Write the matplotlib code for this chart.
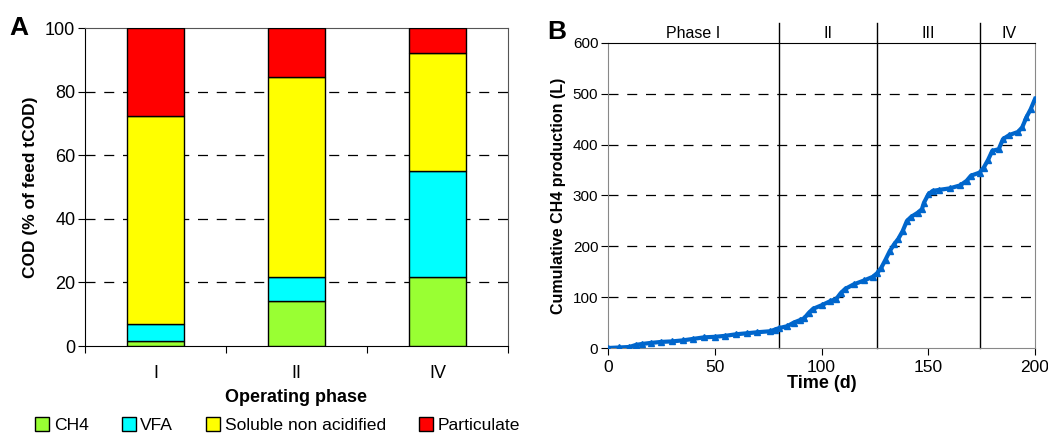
import numpy as np
import matplotlib
matplotlib.use('Agg')
import matplotlib.pyplot as plt
from matplotlib.patches import Patch

plt.rcParams['font.family'] = ['Liberation Sans', 'DejaVu Sans']

# panel A: COD split per operating phase (% of feed tCOD)
phases = ['I', 'II', 'IV']
ch4 = [1.7, 14.2, 21.8]
vfa = [5.2, 7.5, 33.2]
soluble = [65.4, 63.0, 37.3]
particulate = [27.7, 15.3, 7.7]
comp_names = ['CH4', 'VFA', 'Soluble non acidified', 'Particulate']
comp_colors = ['#99FF33', '#00FFFF', '#FFFF00', '#FF0000']

# panel B: cumulative CH4 production
time_d = [0, 5, 10, 13, 16, 20, 25, 30, 35, 40, 45, 50, 55, 60, 65, 70, 76, 78, 80,
          84, 87, 90, 92, 94, 96, 100, 104, 107, 109, 111, 115, 120, 124, 126, 128,
          130, 132, 134, 136, 138, 140, 142, 145, 147, 148, 150, 152, 155, 160, 165,
          168, 170, 174, 176, 178, 180, 183, 185, 188, 192, 194, 196, 198, 200]
ch4_cum = [0, 1, 2, 6, 8, 10, 12, 13, 15, 18, 21, 22, 24, 27, 29, 31, 33, 36, 39,
           43, 50, 55, 59, 69, 77, 84, 92, 97, 108, 116, 125, 133, 140, 147, 158,
           174, 191, 204, 215, 230, 250, 258, 266, 273, 286, 302, 309, 311, 314, 320,
           329, 339, 345, 355, 370, 388, 391, 411, 419, 425, 434, 454, 470, 490]
phase_bounds = [80, 126, 174]
phase_labels = ['Phase I', 'II', 'III', 'IV']
phase_label_x = [40, 103, 150, 188]

fig = plt.figure(figsize=(10.48, 4.33), dpi=100)

# ---- A ----
axA = fig.add_axes([0.0811, 0.2009, 0.4036, 0.7344])
x = np.arange(len(phases))
bottom = np.zeros(len(phases))
for vals, name, col in zip([ch4, vfa, soluble, particulate], comp_names, comp_colors):
    axA.bar(x, vals, 0.4, bottom=bottom, color=col, edgecolor='black', linewidth=1, label=name, zorder=3)
    bottom += np.array(vals)
axA.set_xlim(-0.5, 2.5)
axA.set_ylim(0, 100)
axA.set_yticks([0, 20, 40, 60, 80, 100])
axA.set_xticks([-0.5, 0.5, 1.5, 2.5])
axA.set_xticklabels([])
axA.set_xticks(x, minor=True)
axA.set_xticklabels(phases, minor=True)
axA.tick_params(axis='x', which='minor', length=0, pad=14, labelsize=13)
axA.tick_params(axis='x', which='major', length=5, direction='out')
axA.tick_params(axis='y', length=5, labelsize=13, pad=2)
for yv in [20, 40, 60, 80]:
    axA.axhline(yv, color='black', lw=0.9, dashes=(8, 7), zorder=1)
for s in ['top', 'right']:
    axA.spines[s].set_color('#555555')
axA.set_xlabel('Operating phase', fontweight='bold', fontsize=13, labelpad=5)
axA.set_ylabel('COD (% of feed tCOD)', fontweight='bold', fontsize=12.5, labelpad=5)
fig.text(0.009, 0.935, 'A', fontweight='bold', fontsize=19, va='center')

handles = [Patch(facecolor=c, edgecolor='black', label=n) for n, c in zip(comp_names, comp_colors)]
fig.legend(handles=handles, loc='center', bbox_to_anchor=(0.265, 0.018), ncol=4, frameon=False,
           fontsize=12.6, handlelength=0.8, handleheight=0.8, handletextpad=0.25, columnspacing=1.9)

# ---- B ----
axB = fig.add_axes([0.5802, 0.1963, 0.4074, 0.7044])
axB.plot(time_d, ch4_cum, color='#0066CC', lw=3, marker='^', ms=5, zorder=3)
axB.set_xlim(0, 200)
axB.set_ylim(0, 600)
axB.set_xticks([0, 50, 100, 150, 200])
axB.set_yticks([0, 100, 200, 300, 400, 500, 600])
axB.tick_params(axis='x', labelsize=12.5, length=5)
axB.tick_params(axis='y', labelsize=11, length=5, pad=2)
for yv in [100, 200, 300, 400, 500]:
    axB.axhline(yv, color='black', lw=0.9, dashes=(8, 7), zorder=1)
for s in ['left', 'right', 'bottom']:
    axB.spines[s].set_color('#888888')
axB.spines['top'].set_color('black')
for xb in phase_bounds:
    axB.plot([xb, xb], [0, 640], color='black', lw=1, clip_on=False, zorder=2)
for lab, xl in zip(phase_labels, phase_label_x):
    axB.text(xl, 618, lab, ha='center', va='center', fontsize=11.5)
axB.set_xlabel('Time (d)', fontweight='bold', fontsize=13, labelpad=0)
axB.set_ylabel('Cumulative CH4 production (L)', fontweight='bold', fontsize=11.5, labelpad=5)
fig.text(0.522, 0.925, 'B', fontweight='bold', fontsize=19, va='center')

fig.savefig('out.png', dpi=100)
